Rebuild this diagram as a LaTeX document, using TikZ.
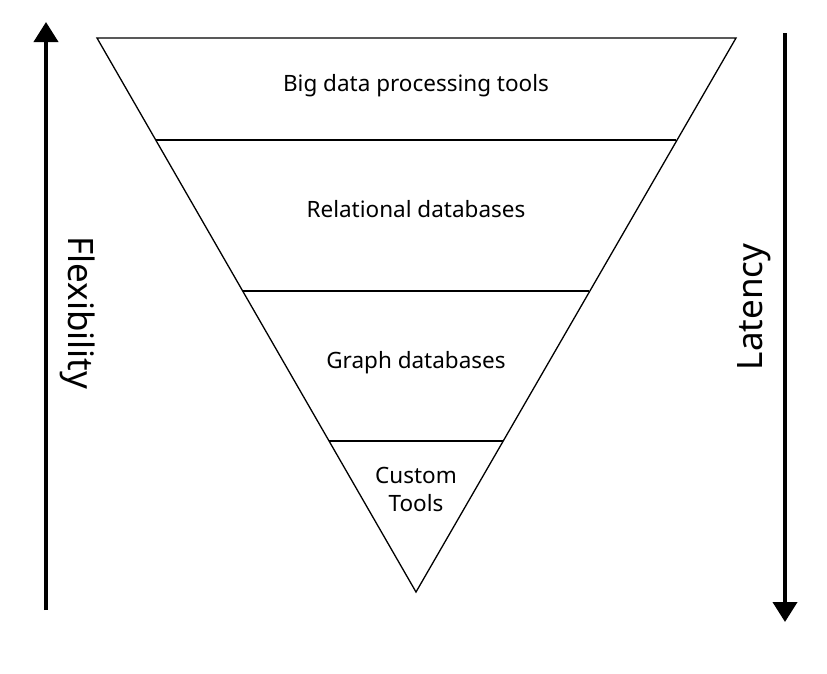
\documentclass[tikz,border=0pt]{standalone}
\usepackage{fontspec}
\setmainfont{Noto Sans}
\usetikzlibrary{arrows.meta}
\begin{document}
\begin{tikzpicture}[x=1pt,y=-1pt,
  lbl/.style={font=\fontsize{22.5}{28}\selectfont, align=center, inner sep=0pt},
  axlbl/.style={font=\fontsize{35}{40}\selectfont, inner sep=0pt},
  edge/.style={line width=1.3pt, line join=miter},
  divider/.style={line width=2.6pt},
  axis/.style={line width=4pt, -{Triangle[width=24pt,length=20pt]}}]
\useasboundingbox (0,0) rectangle (827,673);
\coordinate (tl) at (97,38);
\coordinate (tr) at (736,38);
\coordinate (ap) at (416,592);
\draw[edge] (tl) -- (tr) -- (ap) -- cycle;
\coordinate (d1l) at (155.7,140);
\coordinate (d1r) at (676.3,140);
\coordinate (d2l) at (242.7,291);
\coordinate (d2r) at (589.3,291);
\coordinate (d3l) at (329.3,441);
\coordinate (d3r) at (502.7,441);
\draw[divider] (d1l) -- (d1r);
\draw[divider] (d2l) -- (d2r);
\draw[divider] (d3l) -- (d3r);
\node[lbl] (big) at (416,86) {Big data processing tools};
\node[lbl] (rel) at (416,209) {Relational databases};
\node[lbl] (graph) at (416,363) {Graph databases};
\node[lbl] (custom) at (416,489) {Custom\\Tools};
\coordinate (fb) at (46,610);
\coordinate (ft) at (46,22);
\draw[axis] (fb) -- (ft);
\coordinate (lt) at (785,33);
\coordinate (lb) at (785,622);
\draw[axis] (lt) -- (lb);
\node[axlbl, rotate=-90] (flex) at (78,313) {Flexibility};
\node[axlbl, rotate=90] (lat) at (754,307) {Latency};
\end{tikzpicture}
\end{document}
